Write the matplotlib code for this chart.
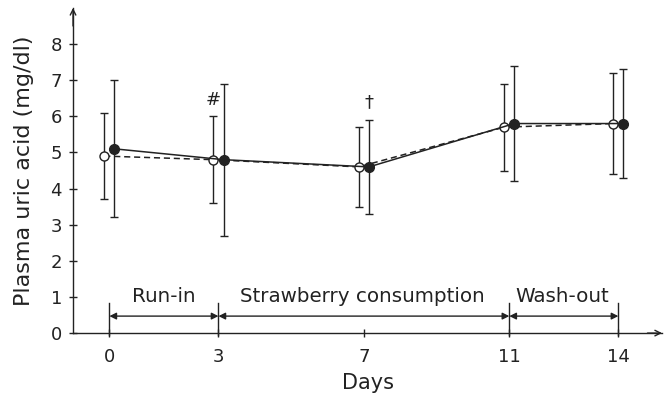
import matplotlib
matplotlib.use("Agg")
import matplotlib.pyplot as plt
import numpy as np

days = [0, 3, 7, 11, 14]
open_mean = [4.9, 4.8, 4.6, 5.7, 5.8]
open_lo = [3.7, 3.6, 3.5, 4.5, 4.4]
open_hi = [6.1, 6.0, 5.7, 6.9, 7.2]
filled_mean = [5.1, 4.8, 4.6, 5.8, 5.8]
filled_lo = [3.2, 2.7, 3.3, 4.2, 4.3]
filled_hi = [7.0, 6.9, 5.9, 7.4, 7.3]
phase_bounds = [0, 3, 11, 14]
phase_labels = ["Run-in", "Strawberry consumption", "Wash-out"]
phase_label_x = [1.5, 6.95, 12.45]
yticks = [0, 1, 2, 3, 4, 5, 6, 7, 8]

plt.rcParams['font.family'] = ['DejaVu Sans']
col = '#222222'
fig = plt.figure(figsize=(6.64, 3.97), dpi=100)
ax = fig.add_axes([0.11, 0.161, 0.887, 0.819])

d = np.array(days, dtype=float)
off = 0.14
om = np.array(open_mean); fm = np.array(filled_mean)
ax.errorbar(d - off, om, yerr=[om - np.array(open_lo), np.array(open_hi) - om],
            fmt='o', ls=(0, (4, 2.5)), color=col, mfc='white', mec=col, ms=6.5,
            lw=1.1, elinewidth=1.0, capsize=2.8, capthick=1.0, zorder=3)
ax.errorbar(d + off, fm, yerr=[fm - np.array(filled_lo), np.array(filled_hi) - fm],
            fmt='o', ls='-', color=col, mfc=col, mec=col, ms=7,
            lw=1.1, elinewidth=1.0, capsize=2.8, capthick=1.0, zorder=4)

ax.text(3 - off, 6.45, '#', ha='center', va='center', fontsize=13, color=col)
ax.text(7 + off, 6.4, '†', ha='center', va='center', fontsize=13, color=col)

ax.set_xlim(-1, 15.2)
ax.set_ylim(0, 9)
for s in ['top', 'right']:
    ax.spines[s].set_visible(False)
for s in ['left', 'bottom']:
    ax.spines[s].set_color(col)
    ax.spines[s].set_linewidth(1.0)
ax.set_yticks(yticks)
ax.set_xticks(days)
ax.tick_params(axis='y', direction='inout', length=6, width=1, colors=col, labelsize=13, pad=5)
ax.tick_params(axis='x', direction='inout', length=6, width=1, colors=col, labelsize=13, pad=8)
ax.set_ylabel('Plasma uric acid (mg/dl)', fontsize=16, color=col, labelpad=12)
ax.set_xlabel('Days', fontsize=15, color=col, labelpad=5)

# axis arrows
ax.annotate('', xy=(-1, 9.0), xytext=(-1, 8.5), xycoords='data',
            arrowprops=dict(arrowstyle='->', color=col, lw=1.0, shrinkA=0, shrinkB=0),
            annotation_clip=False)
ax.annotate('', xy=(15.2, 0), xytext=(14.8, 0),
            arrowprops=dict(arrowstyle='->', color=col, lw=1.0, shrinkA=0, shrinkB=0),
            annotation_clip=False)

# phase brackets
for b in phase_bounds:
    ax.plot([b, b], [-0.05, 0.83], color=col, lw=1.0, clip_on=False)
for a, b in zip(phase_bounds[:-1], phase_bounds[1:]):
    ax.annotate('', xy=(b, 0.47), xytext=(a, 0.47),
                arrowprops=dict(arrowstyle='<|-|>', color=col, lw=1.0,
                                shrinkA=0, shrinkB=0, mutation_scale=10))
for lbl, x in zip(phase_labels, phase_label_x):
    ax.text(x, 1.02, lbl, ha='center', va='center', fontsize=14.3, color=col)

fig.savefig('out.png', dpi=100)
